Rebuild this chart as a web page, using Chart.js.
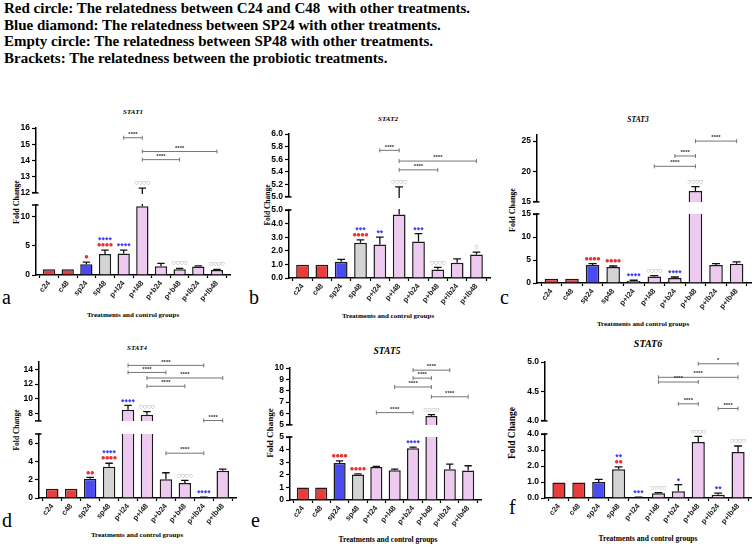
<!DOCTYPE html>
<html>
<head>
<meta charset="utf-8">
<script src="https://cdn.jsdelivr.net/npm/chart.js@4.4.1/dist/chart.umd.min.js"></script>
<style>
body { margin: 0; background: #fff; }
#page { position: relative; width: 752px; height: 545px; overflow: hidden; font-family: 'Liberation Serif', 'Times New Roman', serif; }
.t { position: absolute; white-space: nowrap; color: #000; line-height: 1; }
.hdr { left: 4px; top: 0px; font-weight: bold; font-size: 15px; line-height: 16.7px; }
.ttl { font-weight: bold; font-style: italic; transform: translate(-50%, -50%); }
.xt { font-weight: bold; transform: translate(-50%, -50%); }
.yt { font-weight: bold; transform: translate(-50%, -50%) rotate(-90deg); }
.lt { font-size: 20px; }
canvas { position: absolute; }
</style>
</head>
<body>
<div id="page">
  <div class="t hdr">Red circle: The relatedness between C24 and C48&nbsp; with other treatments.<br>Blue diamond: The relatedness between SP24 with other treatments.<br>Empty circle: The relatedness between SP48 with other treatments.<br>Brackets: The relatedness between the probiotic treatments.</div>

  <div class="t ttl" style="left:133px;top:112px;font-size:7px">STAT1</div>
  <div class="t ttl" style="left:388px;top:119px;font-size:7px">STAT2</div>
  <div class="t ttl" style="left:638px;top:120px;font-size:7.5px">STAT3</div>
  <div class="t ttl" style="left:137px;top:348px;font-size:7px">STAT4</div>
  <div class="t ttl" style="left:387px;top:352px;font-size:9.5px">STAT5</div>
  <div class="t ttl" style="left:648px;top:344px;font-size:10px">STAT6</div>

  <div class="t xt" style="left:133px;top:315px;font-size:7px">Treatments and control groups</div>
  <div class="t xt" style="left:388px;top:316px;font-size:7px">Treatments and control groups</div>
  <div class="t xt" style="left:643px;top:324px;font-size:7px">Treatments and control groups</div>
  <div class="t xt" style="left:137px;top:535px;font-size:7px">Treatments and control groups</div>
  <div class="t xt" style="left:388px;top:540px;font-size:7.5px">Treatments and control groups</div>
  <div class="t xt" style="left:648px;top:539px;font-size:7.5px">Treatments and control groups</div>

  <div class="t yt" style="left:17px;top:202px;font-size:8px">Fold Change</div>
  <div class="t yt" style="left:268px;top:205px;font-size:7.5px">Fold Change</div>
  <div class="t yt" style="left:513px;top:210px;font-size:8px">Fold Change</div>
  <div class="t yt" style="left:17px;top:430px;font-size:7.5px">Fold Change</div>
  <div class="t yt" style="left:270px;top:433px;font-size:9px">Fold Change</div>
  <div class="t yt" style="left:513px;top:433px;font-size:9.5px">Fold Change</div>

  <div class="t lt" style="left:2px;top:287px">a</div>
  <div class="t lt" style="left:249px;top:287px">b</div>
  <div class="t lt" style="left:500px;top:287px">c</div>
  <div class="t lt" style="left:2px;top:510px">d</div>
  <div class="t lt" style="left:251px;top:510px">e</div>
  <div class="t lt" style="left:509px;top:497px">f</div>
</div>

<script>
// grupos del eje x
const groups = ['c24', 'c48', 'sp24', 'sp48', 'p+l24', 'p+l48', 'p+b24', 'p+b48', 'p+lb24', 'p+lb48'];

// ---- STAT1 ----
const stat1Mean = [1.0, 1.0, 1.85, 3.6, 3.7, 11.8, 1.5, 1.0, 1.45, 0.86];
const stat1Err = [1.0, 1.0, 2.2, 4.25, 4.25, 12.3, 2.0, 1.15, 1.55, 0.98];
const stat1Red = [0, 0, 1, 4, 0, 0, 0, 0, 0, 0];
const stat1Blue = [0, 0, 0, 4, 4, 0, 0, 0, 0, 0];
const stat1Open = [0, 0, 0, 0, 0, 4, 0, 4, 0, 4];
const stat1Brackets = [[4, 5, 15.4, '****'], [5, 9, 14.55, '****'], [5, 7, 14.05, '****']];
const stat1Lower = [0, 12];
const stat1Upper = [12, 16];
const stat1LowerTicks = [0, 5, 10];
const stat1UpperTicks = [12, 13, 14, 15, 16];

// ---- STAT2 ----
const stat2Mean = [0.97, 0.97, 1.2, 2.6, 2.47, 4.66, 2.68, 0.62, 1.13, 1.72];
const stat2Err = [0.97, 0.97, 1.37, 2.8, 3.0, 5.16, 3.27, 0.78, 1.41, 1.9];
const stat2Red = [0, 0, 0, 4, 0, 0, 0, 0, 0, 0];
const stat2Blue = [0, 0, 0, 3, 2, 0, 3, 0, 0, 0];
const stat2Open = [0, 0, 0, 0, 0, 4, 0, 4, 0, 1];
const stat2Brackets = [[4, 5, 5.74, '****'], [5, 9, 5.57, '****'], [5, 7, 5.43, '****']];
const stat2Lower = [0, 5];
const stat2Upper = [5, 6];
const stat2LowerTicks = [0, 1, 2, 3, 4, 5];
const stat2UpperTicks = [5.0, 5.2, 5.4, 5.6, 5.8, 6.0];

// ---- STAT3 ----
const stat3Mean = [0.9, 0.9, 3.9, 3.5, 0.45, 1.4, 1.1, 16.8, 3.9, 4.2];
const stat3Err = [0.9, 0.9, 4.2, 3.7, 0.6, 1.6, 1.3, 17.5, 4.2, 4.6];
const stat3Red = [0, 0, 4, 4, 0, 0, 0, 0, 0, 0];
const stat3Blue = [0, 0, 0, 0, 4, 0, 4, 0, 0, 0];
const stat3Open = [0, 0, 0, 0, 0, 4, 0, 4, 0, 0];
const stat3Brackets = [[7, 9, 25.0, '****'], [6, 7, 22.55, '****'], [5, 7, 20.85, '****']];
const stat3Lower = [0, 15];
const stat3Upper = [15, 26];
const stat3LowerTicks = [0, 5, 10, 15];
const stat3UpperTicks = [15, 20, 25];

// ---- STAT4 ----
const stat4Mean = [1.0, 1.0, 2.1, 3.42, 8.5, 7.83, 2.04, 1.64, 0.05, 2.98];
const stat4Err = [1.0, 1.0, 2.25, 3.8, 9.1, 8.25, 2.76, 1.93, 0.08, 3.16];
const stat4Red = [0, 0, 2, 4, 0, 0, 0, 0, 0, 0];
const stat4Blue = [0, 0, 0, 4, 4, 0, 0, 0, 4, 0];
const stat4Open = [0, 0, 0, 0, 0, 4, 0, 4, 0, 0];
const stat4Brackets = [[4, 8, 14.54, '****'], [4, 6, 13.58, '****'], [5, 9, 12.83, '****'], [5, 7, 11.71, '****'], [8, 9, 7.05, '****'], [6, 8, 4.9, '****']];
const stat4Lower = [0, 7];
const stat4Upper = [7, 15];
const stat4LowerTicks = [0, 2, 4, 6];
const stat4UpperTicks = [8, 10, 12, 14];

// ---- STAT5 ----
const stat5Mean = [1.0, 1.0, 2.93, 2.03, 2.61, 2.37, 4.1, 5.78, 2.45, 2.35];
const stat5Err = [1.0, 1.0, 3.1, 2.08, 2.67, 2.45, 4.19, 5.91, 2.85, 2.72];
const stat5Red = [0, 0, 4, 4, 0, 0, 0, 0, 0, 0];
const stat5Blue = [0, 0, 0, 0, 0, 0, 4, 0, 0, 0];
const stat5Open = [0, 0, 0, 0, 0, 0, 0, 4, 0, 0];
const stat5Brackets = [[6, 8, 9.81, '****'], [6, 7, 9.11, '****'], [5, 7, 8.33, '****'], [7, 9, 7.47, '****'], [4, 6, 6.08, '****']];
const stat5Lower = [0, 5];
const stat5Upper = [5, 10];
const stat5LowerTicks = [0, 1, 2, 3, 4, 5];
const stat5UpperTicks = [5, 6, 7, 8, 9, 10];

// ---- STAT6 ----
const stat6Mean = [0.97, 0.97, 1.0, 1.8, 0.04, 0.29, 0.42, 3.5, 0.21, 2.88];
const stat6Err = [0.97, 0.97, 1.17, 1.94, 0.05, 0.33, 0.83, 3.85, 0.31, 3.25];
const stat6Red = [0, 0, 0, 2, 0, 0, 0, 0, 0, 0];
const stat6Blue = [0, 0, 0, 2, 3, 0, 1, 0, 2, 0];
const stat6Open = [0, 0, 0, 0, 0, 4, 0, 4, 0, 4];
const stat6Brackets = [[7, 9, 4.97, '*'], [5, 9, 4.74, '****'], [5, 7, 4.66, '****'], [6, 7, 4.29, '****'], [8, 9, 4.21, '****']];
const stat6Lower = [0, 4];
const stat6Upper = [4, 5];
const stat6LowerTicks = [0, 1, 2, 3, 4];
const stat6UpperTicks = [4.0, 4.5, 5.0];

// colores de las barras (controles rojos, sp24 azul, sp48 gris, probióticos rosa)
const barColors = ['#e93c3c', '#e93c3c', '#4b4bf2', '#d4d4d4', '#eecaf1', '#eecaf1', '#eecaf1', '#eecaf1', '#eecaf1', '#eecaf1'];

// posición de cada panel en la página (eje y, ancho, partes superior e inferior)
const panels = [
    { mean: stat1Mean, err: stat1Err, red: stat1Red, blue: stat1Blue, open: stat1Open, brackets: stat1Brackets, lower: stat1Lower, upper: stat1Upper, lowerTicks: stat1LowerTicks, upperTicks: stat1UpperTicks, dec: false, axisX: 36, areaW: 194, uTop: 128, uBot: 198, lTop: 205, lBot: 275 },
    { mean: stat2Mean, err: stat2Err, red: stat2Red, blue: stat2Blue, open: stat2Open, brackets: stat2Brackets, lower: stat2Lower, upper: stat2Upper, lowerTicks: stat2LowerTicks, upperTicks: stat2UpperTicks, dec: true, axisX: 289, areaW: 201, uTop: 134, uBot: 202, lTop: 210, lBot: 278 },
    { mean: stat3Mean, err: stat3Err, red: stat3Red, blue: stat3Blue, open: stat3Open, brackets: stat3Brackets, lower: stat3Lower, upper: stat3Upper, lowerTicks: stat3LowerTicks, upperTicks: stat3UpperTicks, dec: false, axisX: 537, areaW: 214, uTop: 135, uBot: 207, lTop: 214, lBot: 283 },
    { mean: stat4Mean, err: stat4Err, red: stat4Red, blue: stat4Blue, open: stat4Open, brackets: stat4Brackets, lower: stat4Lower, upper: stat4Upper, lowerTicks: stat4LowerTicks, upperTicks: stat4UpperTicks, dec: false, axisX: 39, areaW: 197, uTop: 362, uBot: 426, lTop: 434, lBot: 498 },
    { mean: stat5Mean, err: stat5Err, red: stat5Red, blue: stat5Blue, open: stat5Open, brackets: stat5Brackets, lower: stat5Lower, upper: stat5Upper, lowerTicks: stat5LowerTicks, upperTicks: stat5UpperTicks, dec: false, axisX: 290, areaW: 191, uTop: 368, uBot: 430, lTop: 437, lBot: 500 },
    { mean: stat6Mean, err: stat6Err, red: stat6Red, blue: stat6Blue, open: stat6Open, brackets: stat6Brackets, lower: stat6Lower, upper: stat6Upper, lowerTicks: stat6LowerTicks, upperTicks: stat6UpperTicks, dec: true, axisX: 545, areaW: 207, uTop: 362, uBot: 426, lTop: 434, lBot: 498 }
];

const page = document.getElementById('page');

// Plugin: barras de error, marcas de significancia, corchetes y marca de corte del eje
function marksPlugin(p, upper) {
    return {
        id: 'marks',
        afterDatasetsDraw(chart) {
            const ctx = chart.ctx;
            const ys = chart.scales.y;
            const xs = chart.scales.x;
            const a = chart.chartArea;
            const meta = chart.getDatasetMeta(0);
            const inRange = v => upper ? v > ys.min : v <= ys.max;

            // barras de error (solo el bigote superior)
            ctx.save();
            ctx.beginPath();
            ctx.rect(a.left, a.top - 1, a.right - a.left, a.bottom - a.top + 2);
            ctx.clip();
            ctx.strokeStyle = '#111';
            ctx.lineWidth = 1.3;
            p.err.forEach((t, i) => {
                if (t <= p.mean[i] + 0.001) return;
                const bar = meta.data[i];
                const y0 = ys.getPixelForValue(p.mean[i]);
                const y1 = ys.getPixelForValue(t);
                ctx.beginPath();
                ctx.moveTo(bar.x, y0);
                ctx.lineTo(bar.x, y1);
                ctx.moveTo(bar.x - bar.width * 0.3, y1);
                ctx.lineTo(bar.x + bar.width * 0.3, y1);
                ctx.stroke();
            });
            ctx.restore();

            // marcas: círculo rojo, diamante azul, círculo vacío
            ctx.save();
            ctx.textAlign = 'center';
            ctx.textBaseline = 'middle';
            ctx.font = '4.5px "DejaVu Sans"';
            p.err.forEach((t, i) => {
                if (!inRange(t)) return;
                const x = meta.data[i].x;
                let y = ys.getPixelForValue(t) - 5;
                const list = [[p.red[i], '\u25CF', '#ee3030'], [p.blue[i], '\u25C6', '#4040ff'], [p.open[i], '\u25CB', '#888']];
                list.forEach(m => {
                    if (!m[0]) return;
                    ctx.fillStyle = m[2];
                    ctx.fillText(m[1].repeat(m[0]), x, y);
                    y -= 6;
                });
            });
            ctx.restore();

            // corchetes entre tratamientos
            ctx.save();
            ctx.strokeStyle = '#666';
            ctx.lineWidth = 0.9;
            ctx.fillStyle = '#333';
            ctx.font = 'bold 6px "Liberation Sans"';
            ctx.textAlign = 'center';
            ctx.textBaseline = 'bottom';
            p.brackets.forEach(b => {
                if (upper ? b[2] <= p.lower[1] : b[2] > p.lower[1]) return;
                const x1 = xs.getPixelForValue(b[0]);
                const x2 = xs.getPixelForValue(b[1]);
                const y = ys.getPixelForValue(b[2]);
                ctx.beginPath();
                ctx.moveTo(x1, y); ctx.lineTo(x2, y);
                ctx.moveTo(x1, y - 2); ctx.lineTo(x1, y + 2);
                ctx.moveTo(x2, y - 2); ctx.lineTo(x2, y + 2);
                ctx.stroke();
                ctx.fillText(b[3], (x1 + x2) / 2, y - 0.5);
            });
            ctx.restore();

            // marca del corte del eje y
            ctx.save();
            ctx.strokeStyle = '#000';
            ctx.lineWidth = 1.5;
            const yb = upper ? a.bottom : a.top;
            ctx.beginPath();
            ctx.moveTo(a.left - 4, yb);
            ctx.lineTo(a.left + 2.5, yb);
            ctx.stroke();
            ctx.restore();
        }
    };
}

function makePart(p, upper) {
    const yr = upper ? p.upper : p.lower;
    const yTicks = upper ? p.upperTicks : p.lowerTicks;
    const top = upper ? p.uTop : p.lTop;
    const bot = upper ? p.uBot : p.lBot;
    const padTop = 12, padRight = 4, yW = 30;
    const xH = upper ? 2 : 40;
    const w = yW + p.areaW + padRight;
    const h = padTop + (bot - top) + xH;

    const cv = document.createElement('canvas');
    cv.width = w;
    cv.height = h;
    cv.style.left = (p.axisX - yW) + 'px';
    cv.style.top = (top - padTop) + 'px';
    cv.style.width = w + 'px';
    cv.style.height = h + 'px';
    page.appendChild(cv);

    new Chart(cv, {
        type: 'bar',
        data: {
            datasets: [{
                data: p.mean.map((v, i) => ({ x: i, y: v })),
                backgroundColor: barColors,
                borderColor: '#1a1a1a',
                borderWidth: 1.5,
                barPercentage: 0.66,
                categoryPercentage: 1
            }]
        },
        options: {
            responsive: false,
            animation: false,
            events: [],
            layout: { padding: { top: padTop, right: padRight, bottom: upper ? xH : 0, left: 0 } },
            plugins: { legend: { display: false }, tooltip: { enabled: false } },
            scales: {
                x: {
                    type: 'linear',
                    min: -0.7,
                    max: 9.7,
                    offset: false,
                    display: !upper,
                    afterFit: s => { s.height = xH; },
                    afterBuildTicks: s => { s.ticks = groups.map((g, i) => ({ value: i })); },
                    grid: { display: true, drawOnChartArea: false, drawTicks: true, tickLength: 3, tickColor: '#000', tickWidth: 1.2 },
                    border: { display: true, color: '#000', width: 1.5 },
                    ticks: {
                        autoSkip: false,
                        minRotation: 50,
                        maxRotation: 50,
                        padding: 1,
                        color: '#222',
                        font: { family: 'Liberation Sans', size: 7.5, weight: 'bold' },
                        callback: v => groups[v] !== undefined ? groups[v] : ''
                    }
                },
                y: {
                    min: yr[0],
                    max: yr[1],
                    afterFit: s => { s.width = yW; },
                    afterBuildTicks: s => { s.ticks = yTicks.map(v => ({ value: v })); },
                    grid: { display: true, drawOnChartArea: false, drawTicks: true, tickLength: 4, tickColor: '#000', tickWidth: 1.2 },
                    border: { display: true, color: '#000', width: 1.5 },
                    ticks: {
                        autoSkip: false,
                        padding: 2,
                        color: '#000',
                        font: { family: 'Liberation Sans', size: 8.5, weight: 'bold' },
                        callback: v => p.dec ? Number(v).toFixed(1) : v
                    }
                }
            }
        },
        plugins: [marksPlugin(p, upper)]
    });
}

panels.forEach(p => {
    makePart(p, true);
    makePart(p, false);
});
</script>
</body>
</html>
